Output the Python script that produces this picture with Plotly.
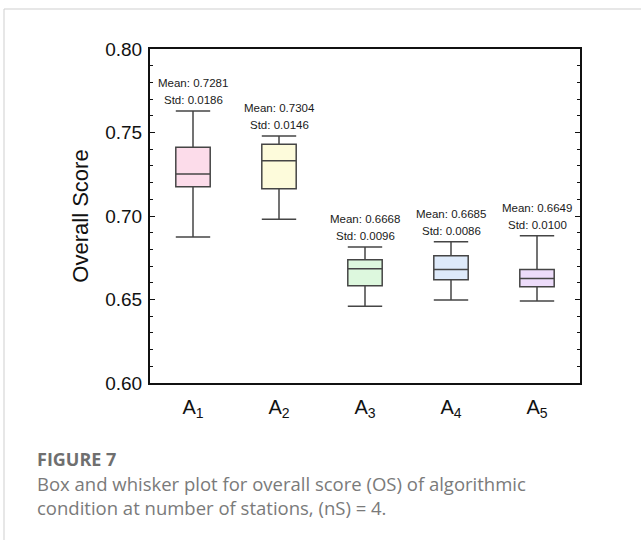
import plotly.graph_objects as go

# Box summary per algorithmic condition
categories = ["A<sub>1</sub>", "A<sub>2</sub>", "A<sub>3</sub>", "A<sub>4</sub>", "A<sub>5</sub>"]
lower_whisker = [0.6874, 0.6980, 0.6459, 0.6497, 0.6491]
q1 = [0.7175, 0.7163, 0.6582, 0.6618, 0.6576]
median = [0.7251, 0.7331, 0.6684, 0.6680, 0.6626]
q3 = [0.7411, 0.7429, 0.6738, 0.6762, 0.6680]
upper_whisker = [0.7629, 0.7479, 0.6814, 0.6846, 0.6882]
means = [0.7281, 0.7304, 0.6668, 0.6685, 0.6649]
stds = [0.0186, 0.0146, 0.0096, 0.0086, 0.0100]
fill_colors = ["#fcdcea", "#fdfbdb", "#ddf8de", "#deeafa", "#eddcfa"]

SANS = "Liberation Sans, Arial, sans-serif"

W, H = 641, 540
L, R, T, B = 150, 61, 49, 157
pw, ph = W - L - R, H - T - B

fig = go.Figure()
for i, cat in enumerate(categories):
    fig.add_trace(go.Box(
        x=[cat],
        q1=[q1[i]], median=[median[i]], q3=[q3[i]],
        lowerfence=[lower_whisker[i]], upperfence=[upper_whisker[i]],
        fillcolor=fill_colors[i],
        line=dict(color="#454545", width=1.5),
        width=0.4, whiskerwidth=1,
        boxpoints=False, showlegend=False, hoverinfo="skip",
    ))
    # mean / std labels above the upper whisker
    fig.add_annotation(x=cat, y=upper_whisker[i], text=f"Std: {stds[i]:.4f}",
                       showarrow=False, yanchor="bottom", yshift=3,
                       font=dict(family=SANS, size=11.5, color="#1a1a1a"))
    fig.add_annotation(x=cat, y=upper_whisker[i], text=f"Mean: {means[i]:.4f}",
                       showarrow=False, yanchor="bottom", yshift=20,
                       font=dict(family=SANS, size=11.5, color="#1a1a1a"))

def px_x(x):
    return (x - L) / pw

def px_y(y):
    return (H - B - y) / ph

# light page frame
fig.add_shape(type="line", xref="paper", yref="paper",
              x0=px_x(4), y0=px_y(540), x1=px_x(4), y1=px_y(9),
              line=dict(color="#cfcfcf", width=1))
fig.add_shape(type="line", xref="paper", yref="paper",
              x0=px_x(4), y0=px_y(9), x1=px_x(641), y1=px_y(9),
              line=dict(color="#cfcfcf", width=1))

# caption
CAP = "Open Sans, sans-serif"
fig.add_annotation(xref="paper", yref="paper", x=px_x(35), y=px_y(459),
                   xanchor="left", yanchor="middle", showarrow=False,
                   text="<b>FIGURE 7</b>",
                   font=dict(family=CAP, size=18, color="#6f6f6f"))
fig.add_annotation(xref="paper", yref="paper", x=px_x(35), y=px_y(483),
                   xanchor="left", yanchor="middle", showarrow=False,
                   text="Box and whisker plot for overall score (OS) of algorithmic",
                   font=dict(family=CAP, size=18.5, color="#7a7a7a"))
fig.add_annotation(xref="paper", yref="paper", x=px_x(35), y=px_y(507),
                   xanchor="left", yanchor="middle", showarrow=False,
                   text="condition at number of stations, (nS) = 4.",
                   font=dict(family=CAP, size=18.5, color="#7a7a7a"))

fig.update_layout(
    width=W, height=H,
    margin=dict(l=L, r=R, t=T, b=B, pad=0),
    paper_bgcolor="white", plot_bgcolor="white",
    font=dict(family=SANS, color="#111111"),
    boxmode="overlay",
    xaxis=dict(
        type="category", categoryorder="array", categoryarray=categories,
        range=[-0.5, 4.5],
        showline=True, linecolor="#111111", linewidth=2, mirror=True,
        showgrid=False, zeroline=False, ticks="",
        tickfont=dict(family=SANS, size=20), ticklabelstandoff=5,
    ),
    yaxis=dict(
        range=[0.6, 0.8], tickvals=[0.60, 0.65, 0.70, 0.75, 0.80],
        tickformat=".2f",
        showline=True, linecolor="#111111", linewidth=2, mirror="ticks",
        showgrid=False, zeroline=False,
        ticks="inside", ticklen=5, tickwidth=1, tickcolor="#111111",
        minor=dict(dtick=0.01, ticks="inside", ticklen=3, tickwidth=1,
                   tickcolor="#111111", showgrid=False),
        tickfont=dict(family=SANS, size=19), ticklabelstandoff=2,
        title=dict(text="Overall Score", font=dict(family=SANS, size=22), standoff=11),
    ),
)

fig.write_html("out.html")
